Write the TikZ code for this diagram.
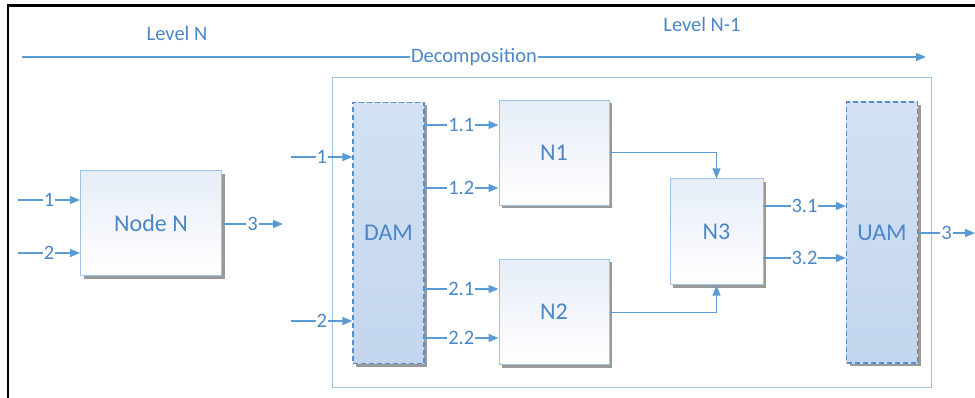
\documentclass[tikz,border=0pt]{standalone}
\usepackage{fontspec}
\setmainfont{Carlito}
\usetikzlibrary{arrows.meta,shadows,calc}
\definecolor{lblue}{HTML}{5B9BD5}
\definecolor{tblue}{HTML}{4A86C8}
\definecolor{bord}{HTML}{9DC3E6}
\definecolor{dbord}{HTML}{5A8DC8}
\definecolor{ntop}{HTML}{E6EDF7}
\definecolor{mtop}{HTML}{D3E1F3}
\definecolor{mbot}{HTML}{C3D6EF}
\tikzset{
  conn/.style={draw=lblue, line width=1.3pt, -{Triangle[length=10pt,width=8pt]}},
  lab/.style={fill=white, inner sep=1pt, text=tblue, font=\fontsize{20.5}{22}\selectfont},
  toplab/.style={text=tblue, font=\fontsize{20.5}{22}\selectfont},
  nodebox/.style={draw=bord, line width=1pt, top color=ntop, bottom color=white,
     text=tblue, font=\fontsize{24}{26}\selectfont, inner sep=0pt,
     drop shadow={shadow xshift=3pt, shadow yshift=-3pt, fill=black!40, opacity=1}},
  modbox/.style={draw=dbord, dashed, dash pattern=on 5pt off 3pt, line width=1.1pt,
     top color=mtop, bottom color=mbot,
     text=tblue, font=\fontsize{24}{26}\selectfont, inner sep=0pt,
     drop shadow={shadow xshift=3pt, shadow yshift=-3pt, fill=black!40, opacity=1}},
}
\begin{document}
\begin{tikzpicture}[x=1pt,y=-1pt]
\useasboundingbox (0,0) rectangle (975,398);
% outer frame fragments
\draw[black, line width=2.2pt] (8,398) -- (8,5.5) -- (975,5.5);
% top labels
\node[toplab] (lvn) at (177,33) {Level N};
\node[toplab] (lvn1) at (702,24) {Level N-1};
\coordinate (ds) at (22,57);
\coordinate (de) at (926,57);
\draw[conn] (ds) -- node[lab] (dec) {Decomposition} (de);
% container
\node[draw=bord, line width=1pt, minimum width=599pt, minimum height=309pt, inner sep=0pt] (cont) at (631.5,232.5) {};
% Node N
\node[nodebox, minimum width=141pt, minimum height=105pt] (nn) at (151,223.5) {Node N};
\coordinate (i1) at (18,200);
\coordinate (i2) at (18,253);
\coordinate (o3) at (283,224);
\draw[conn] (i1) -- node[lab] {1} (i1 -| nn.west);
\draw[conn] (i2) -- node[lab] {2} (i2 -| nn.west);
\draw[conn] (o3 -| nn.east) -- node[lab] {3} (o3);
% DAM
\node[modbox, minimum width=71pt, minimum height=261pt] (dam) at (388.5,233) {DAM};
\coordinate (d1) at (291,157);
\coordinate (d2) at (291,321);
\draw[conn] (d1) -- node[lab] {1} (d1 -| dam.west);
\draw[conn] (d2) -- node[lab] {2} (d2 -| dam.west);
% N1, N2
\node[nodebox, minimum width=110pt, minimum height=105pt] (n1) at (554,153) {N1};
\node[nodebox, minimum width=110pt, minimum height=105pt] (n2) at (554,312) {N2};
\coordinate (a11) at (424,125);
\coordinate (a12) at (424,188);
\coordinate (a21) at (424,289);
\coordinate (a22) at (424,338);
\draw[conn] (a11) -- node[lab] {1.1} (a11 -| n1.west);
\draw[conn] (a12) -- node[lab] {1.2} (a12 -| n1.west);
\draw[conn] (a21) -- node[lab] {2.1} (a21 -| n2.west);
\draw[conn] (a22) -- node[lab] {2.2} (a22 -| n2.west);
% N3
\node[nodebox, minimum width=93pt, minimum height=106pt] (n3) at (716.5,232) {N3};
\draw[conn, line width=1pt] (n1.east) -| (n3.north);
\draw[conn, line width=1pt] (n2.east) -| (n3.south);
% UAM
\node[modbox, minimum width=71pt, minimum height=261pt] (uam) at (882,232.5) {UAM};
\coordinate (b31) at (763,206);
\coordinate (b32) at (763,258);
\draw[conn] (b31) -- node[lab] {3.1} (b31 -| uam.west);
\draw[conn] (b32) -- node[lab] {3.2} (b32 -| uam.west);
\coordinate (u3) at (975,233);
\draw[conn] (u3 -| uam.east) -- node[lab] {3} (u3);
\end{tikzpicture}
\end{document}
